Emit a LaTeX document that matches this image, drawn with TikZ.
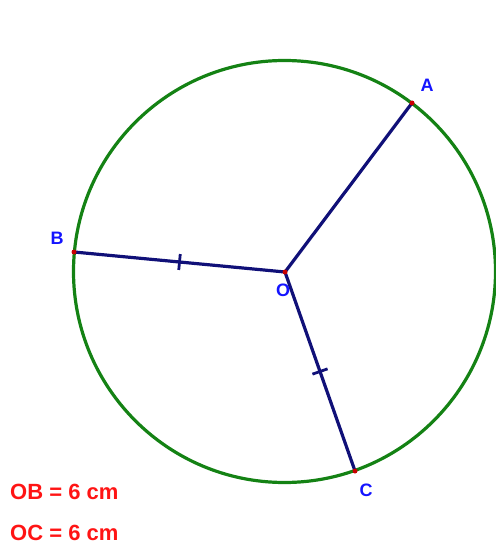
\documentclass[tikz,border=0pt]{standalone}
\usepackage{fontspec}
\setsansfont{Liberation Sans}
\usepackage{tikz}
\usepackage{xcolor}
\usetikzlibrary{calc}
\definecolor{figCircle}{RGB}{20,130,20}
\definecolor{figSeg}{RGB}{16,16,120}
\definecolor{figPoint}{RGB}{200,0,0}
\definecolor{figLabel}{RGB}{20,20,255}
\definecolor{figNote}{RGB}{255,20,20}

\begin{document}
\begin{tikzpicture}[
  x=1pt,y=-1pt,
  font=\sffamily\bfseries,
  circ/.style={draw=figCircle,line width=3.2pt},
  seg/.style={draw=figSeg,line width=3.2pt},
  tick/.style={draw=figSeg,line width=2.8pt},
  dot/.style={circle,fill=figPoint,inner sep=0pt,minimum size=5pt},
  ptlabel/.style={text=figLabel,font=\sffamily\bfseries\fontsize{18}{18}\selectfont,inner sep=0pt},
  note/.style={text=figNote,font=\sffamily\bfseries\fontsize{22}{22}\selectfont,anchor=west,inner sep=0pt}
]
\useasboundingbox (0,0) rectangle (495,545);

\coordinate (O) at (285,272);
\coordinate (A) at (412,103);
\coordinate (B) at (74,252);
\coordinate (C) at (355,471);

\draw[circ] (284.5,271.5) circle (211);

\draw[seg] (O) -- (A);
\draw[seg] (O) -- (B);
\draw[seg] (O) -- (C);

% equal-length marks
\coordinate (midOB) at ($(O)!0.5!(B)$);
\coordinate (midOC) at ($(O)!0.5!(C)$);
\draw[tick] ($(midOB)!8pt!90:(B)$) -- ($(midOB)!8pt!-90:(B)$);
\draw[tick] ($(midOC)!8pt!90:(C)$) -- ($(midOC)!8pt!-90:(C)$);

\node[dot] (pO) at (O) {};
\node[dot] (pA) at (A) {};
\node[dot] (pB) at (B) {};
\node[dot] (pC) at (C) {};

\node[ptlabel] (labA) at (427,85) {A};
\node[ptlabel] (labB) at (57,238) {B};
\node[ptlabel] (labO) at (283,290) {O};
\node[ptlabel] (labC) at (366,490) {C};

\node[note] (noteOB) at (10,492) {OB = 6 cm};
\node[note] (noteOC) at (10,533) {OC = 6 cm};

\end{tikzpicture}
\end{document}
